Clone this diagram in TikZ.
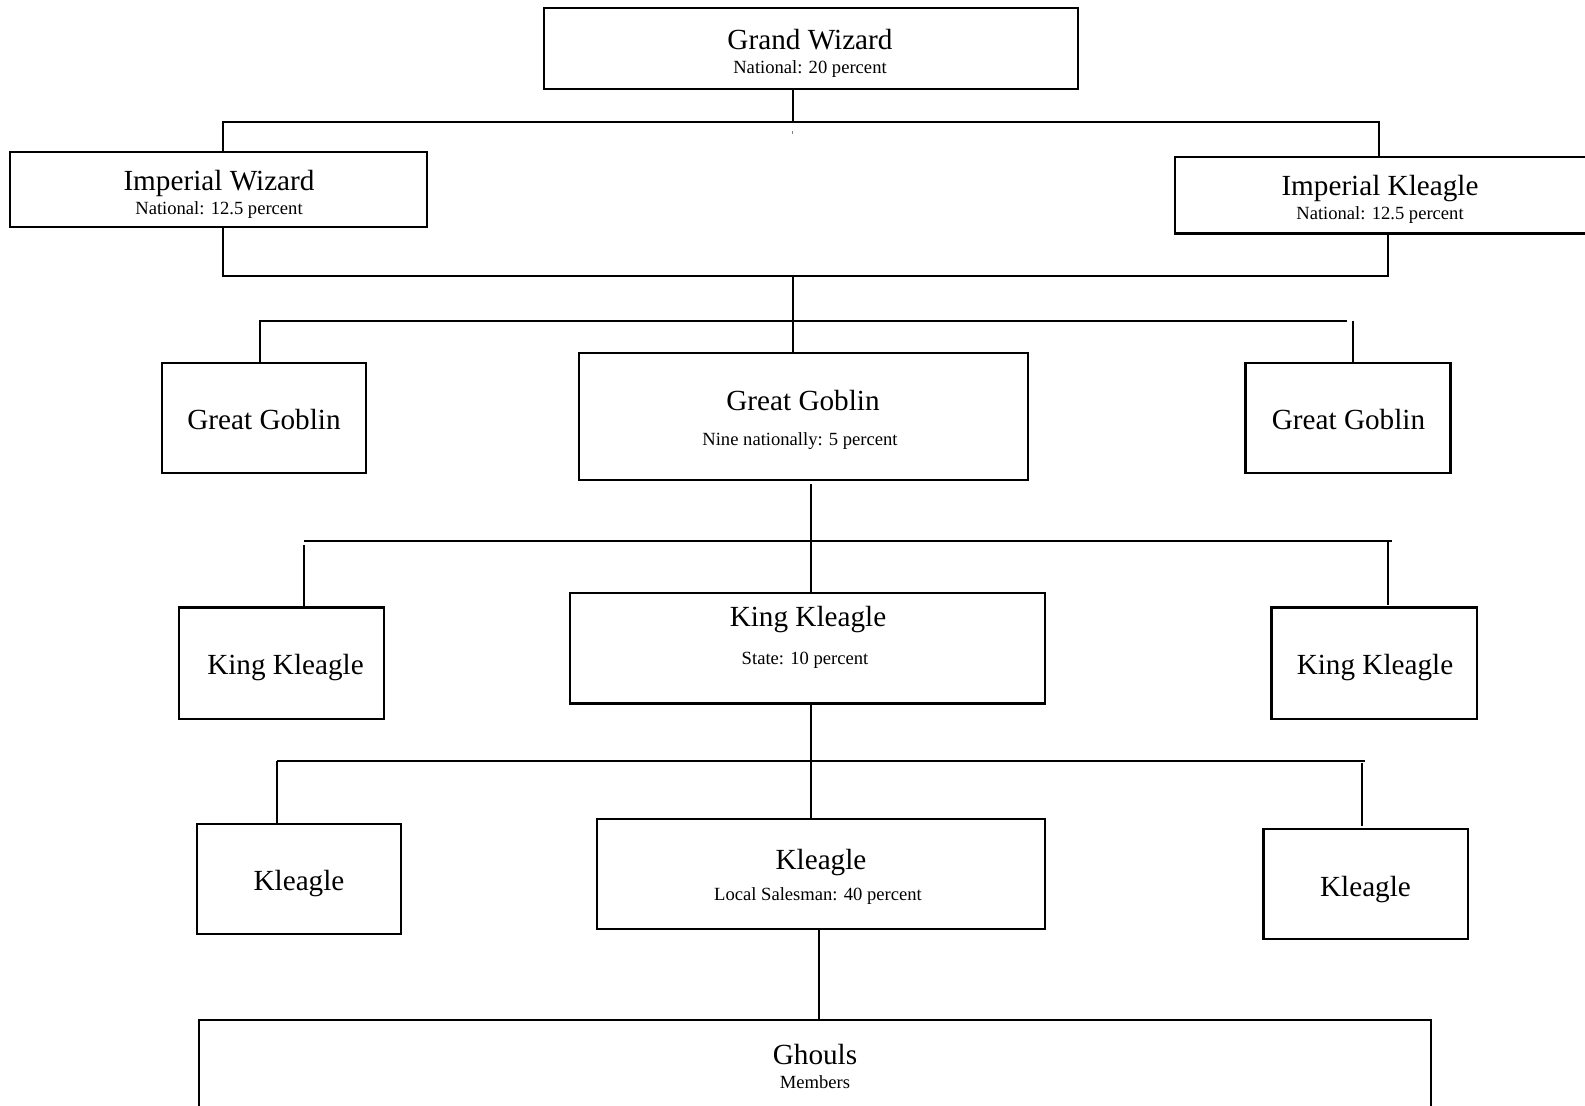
\documentclass[tikz,border=0pt]{standalone}
\usepackage{fontspec}
\setmainfont{Liberation Serif}
\begin{document}
\begin{tikzpicture}[x=0.5pt,y=-0.5pt,
  box/.style={draw, line width=1.1pt, inner sep=0pt},
  big/.style={font=\fontsize{14.6pt}{16pt}\selectfont, inner sep=0pt, text height=0.66em, text depth=0pt},
  small/.style={font=\fontsize{9.3pt}{11pt}\selectfont, inner sep=0pt, text height=0.66em, text depth=0pt},
  conn/.style={line width=1pt}]
\useasboundingbox (0,0) rectangle (1585,1105);
\clip (0,0) rectangle (1585,1105);
\fill[white] (0,0) rectangle (1585,1105);
% boxes
\node[box, minimum width=267pt, minimum height=40.5pt] (gw) at (811,48.5) {};
\node[box, minimum width=208.5pt, minimum height=37.5pt] (iw) at (218.5,189.5) {};
\node[box, minimum width=212.5pt, minimum height=38.25pt] (ik) at (1387.5,195.25) {};
\node[box, minimum width=102pt, minimum height=55pt] (gga) at (264,418) {};
\node[box, minimum width=224.5pt, minimum height=63.5pt] (ggb) at (803.5,416.5) {};
\node[box, minimum width=102.5pt, minimum height=55pt] (ggc) at (1348,418) {};
\node[box, minimum width=102.5pt, minimum height=55.75pt] (kka) at (281.5,663.25) {};
\node[box, minimum width=237.5pt, minimum height=55.25pt] (kkb) at (807.5,648.25) {};
\node[box, minimum width=102.75pt, minimum height=55.75pt] (kkc) at (1374.25,663.25) {};
\node[box, minimum width=102pt, minimum height=55pt] (kla) at (299,879) {};
\node[box, minimum width=224pt, minimum height=55pt] (klb) at (821,874) {};
\node[box, minimum width=102.25pt, minimum height=55pt] (klc) at (1365.75,884) {};
\node[box, minimum width=616pt, minimum height=55pt] (gh) at (815,1075) {};
% texts
\node[big] (gwt) at (810,42.5) {Grand Wizard};
\node[small] (gws) at (810,67) {National: 20 percent};
\node[big] (iwt) at (219,184) {Imperial Wizard};
\node[small] (iws) at (219,208) {National: 12.5 percent};
\node[big] (ikt) at (1380,189) {Imperial Kleagle};
\node[small] (iks) at (1380,213) {National: 12.5 percent};
\node[big] (ggat) at (264,423) {Great Goblin};
\node[big] (ggbt) at (803,404) {Great Goblin};
\node[small] (ggbs) at (800,438.5) {Nine nationally: 5 percent};
\node[big] (ggct) at (1348.5,423) {Great Goblin};
\node[big] (kkat) at (285.5,668) {King Kleagle};
\node[big] (kkbt) at (808,620) {King Kleagle};
\node[small] (kkbs) at (805,658) {State: 10 percent};
\node[big] (kkct) at (1375,668) {King Kleagle};
\node[big] (klat) at (299,884) {Kleagle};
\node[big] (klbt) at (821,863) {Kleagle};
\node[small] (klbs) at (818,893.5) {Local Salesman: 40 percent};
\node[big] (klct) at (1365.5,889.5) {Kleagle};
\node[big] (ght) at (815,1058) {Ghouls};
\node[small] (ghs) at (815,1081.5) {Members};
% junction coordinates
\coordinate (c1) at (792.5,122);
\coordinate (tL) at (223,122);
\coordinate (tR) at (1379,122);
\coordinate (dotA) at (792.5,131);
\coordinate (dotB) at (792.5,133.5);
\coordinate (bL) at (223,276);
\coordinate (bR) at (1388,276);
\coordinate (c2) at (792.5,276);
\coordinate (gL) at (260,320.5);
\coordinate (gR) at (1347,320.5);
\coordinate (gRv) at (1353,320.5);
\coordinate (c3) at (810.7,484);
\coordinate (kL) at (304,541);
\coordinate (kLv) at (304,545);
\coordinate (kR) at (1392,541);
\coordinate (kRv) at (1388,541);
\coordinate (kRe) at (1388,604.5);
\coordinate (lL) at (277,761);
\coordinate (lR) at (1364.6,761);
\coordinate (lRv) at (1361.6,763);
\coordinate (lRe) at (1361.6,826);
\coordinate (c5) at (819,929);
% connectors
\draw[conn] (gw.south -| c1) -- (c1);
\draw[conn] (iw.north -| tL) -- (tL) -- (tR) -- (ik.north -| tR);
\draw[line width=0.5pt, gray] (dotA) -- (dotB);
\draw[conn] (iw.south -| bL) -- (bL) -- (bR) -- (ik.south -| bR);
\draw[conn] (c2) -- (ggb.north -| c2);
\draw[conn] (gga.north -| gL) -- (gL) -- (gR);
\draw[conn] (gRv) -- (ggc.north -| gRv);
\draw[conn] (c3) -- (kkb.north -| c3);
\draw[conn] (kL) -- (kR);
\draw[conn] (kLv) -- (kka.north -| kLv);
\draw[conn] (kRv) -- (kRe);
\draw[conn] (kkb.south -| c3) -- (klb.north -| c3);
\draw[conn] (lL) -- (lR);
\draw[conn] (lL) -- (kla.north -| lL);
\draw[conn] (lRv) -- (lRe);
\draw[conn] (klb.south -| c5) -- (gh.north -| c5);
\end{tikzpicture}
\end{document}
